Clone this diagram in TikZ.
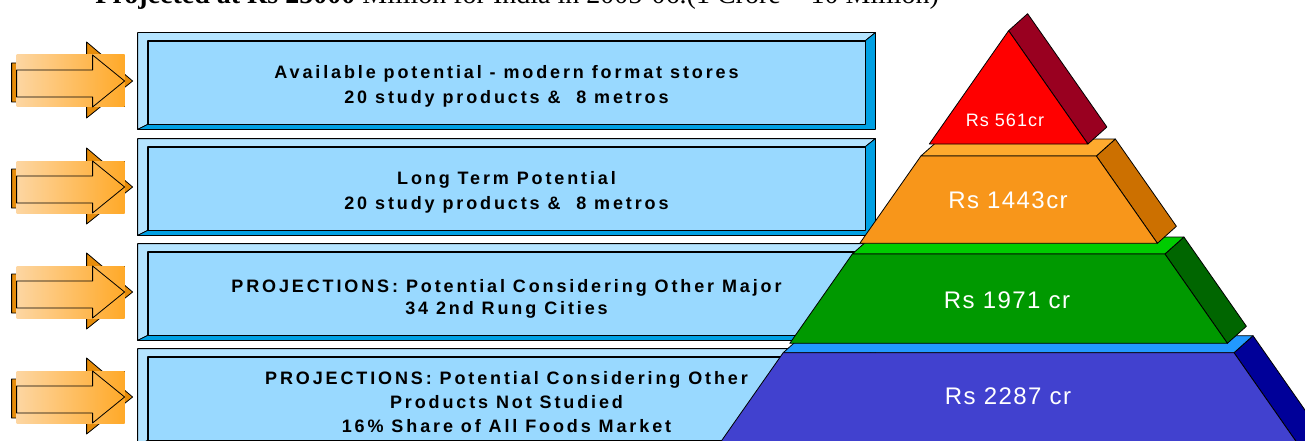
\documentclass[tikz,border=0pt]{standalone}
\usepackage{fontspec}
\setmainfont{Liberation Serif}
\newfontfamily\boxfont[LetterSpace=16]{Liberation Sans}
\newfontfamily\pyrfont[LetterSpace=6]{Liberation Sans}

\definecolor{boxface}{HTML}{99D9FF}
\definecolor{bevellight}{HTML}{B4E4FF}
\definecolor{beveldark}{HTML}{00A0E3}
\definecolor{arrowlight}{HTML}{FDD6A2}
\definecolor{arrowdark}{HTML}{FFA928}
\definecolor{arrowshade}{HTML}{E68C0A}
\definecolor{redfront}{HTML}{FF0000}
\definecolor{redside}{HTML}{990020}
\definecolor{orgfront}{HTML}{F8961A}
\definecolor{orgtop}{HTML}{FFAA2E}
\definecolor{orgside}{HTML}{CC7000}
\definecolor{grnfront}{HTML}{009900}
\definecolor{grntop}{HTML}{00CC00}
\definecolor{grnside}{HTML}{006600}
\definecolor{blufront}{HTML}{4141CF}
\definecolor{blutop}{HTML}{2299FF}
\definecolor{bluside}{HTML}{000099}

\tikzset{
  innerbox/.style={draw, fill=boxface, minimum width=717pt, minimum height=83pt,
    inner sep=0pt, align=center, font=\boxfont\bfseries\fontsize{18}{25}\selectfont},
  lightbevel/.style={draw, fill=bevellight},
  darkbevel/.style={draw, fill=beveldark},
  arrowback/.style={draw, fill=arrowshade},
  arrowgrad/.style={left color=arrowlight, right color=arrowdark},
  face/.style={draw},
  pyrlabel/.style={text=white, inner sep=0pt, font=\pyrfont\fontsize{24}{24}\selectfont}
}

\begin{document}
\begin{tikzpicture}[x=1pt, y=-1pt, line width=0.8pt, line join=round]
  \useasboundingbox (0,0) rectangle (1305,441);
  \clip (0,0) rectangle (1305,441);

  % 标题
  \node[anchor=base west, inner sep=0pt, font=\fontsize{28}{28}\selectfont] (title) at (95,4)
    {\textbf{Projected at Rs 25000} Million for India in 2005-06.(1 Crore = 10 Million)};

  % 文字框
  \node[innerbox] (b1) at (506.5,82.5) {\rule{0pt}{20pt}Available potential - modern format stores\\20 study products \&\ \ 8 metros};
  \draw[lightbevel] ([xshift=-10pt,yshift=8pt]b1.north west) -- ([xshift=10pt,yshift=8pt]b1.north east)
    -- (b1.north east) -- (b1.north west) -- (b1.south west) -- ([xshift=-10pt,yshift=-5pt]b1.south west) -- cycle;
  \draw[darkbevel] ([xshift=10pt,yshift=8pt]b1.north east) -- ([xshift=10pt,yshift=-5pt]b1.south east)
    -- ([xshift=-10pt,yshift=-5pt]b1.south west) -- (b1.south west) -- (b1.south east) -- (b1.north east) -- cycle;

  \node[innerbox] (b2) at (506.5,188.5) {\rule{0pt}{20pt}Long Term Potential\\20 study products \&\ \ 8 metros};
  \draw[lightbevel] ([xshift=-10pt,yshift=8pt]b2.north west) -- ([xshift=10pt,yshift=8pt]b2.north east)
    -- (b2.north east) -- (b2.north west) -- (b2.south west) -- ([xshift=-10pt,yshift=-5pt]b2.south west) -- cycle;
  \draw[darkbevel] ([xshift=10pt,yshift=8pt]b2.north east) -- ([xshift=10pt,yshift=-5pt]b2.south east)
    -- ([xshift=-10pt,yshift=-5pt]b2.south west) -- (b2.south west) -- (b2.south east) -- (b2.north east) -- cycle;

  \node[innerbox] (b3) at (506.5,293.5) {\rule{0pt}{23pt}PROJECTIONS: Potential Considering Other Major\\[-3pt]34 2nd Rung Cities};
  \draw[lightbevel] ([xshift=-10pt,yshift=8pt]b3.north west) -- ([xshift=10pt,yshift=8pt]b3.north east)
    -- (b3.north east) -- (b3.north west) -- (b3.south west) -- ([xshift=-10pt,yshift=-5pt]b3.south west) -- cycle;
  \draw[darkbevel] ([xshift=10pt,yshift=8pt]b3.north east) -- ([xshift=10pt,yshift=-5pt]b3.south east)
    -- ([xshift=-10pt,yshift=-5pt]b3.south west) -- (b3.south west) -- (b3.south east) -- (b3.north east) -- cycle;

  \node[innerbox] (b4) at (506.5,398.5) {\rule{0pt}{20pt}PROJECTIONS: Potential Considering Other\\[-1pt]Products Not Studied\\[-1pt]16\% Share of All Foods Market};
  \draw[lightbevel] ([xshift=-10pt,yshift=8pt]b4.north west) -- ([xshift=10pt,yshift=8pt]b4.north east)
    -- (b4.north east) -- (b4.north west) -- (b4.south west) -- ([xshift=-10pt,yshift=-5pt]b4.south west) -- cycle;
  \draw[darkbevel] ([xshift=10pt,yshift=8pt]b4.north east) -- ([xshift=10pt,yshift=-5pt]b4.south east)
    -- ([xshift=-10pt,yshift=-5pt]b4.south west) -- (b4.south west) -- (b4.south east) -- (b4.north east) -- cycle;

  % 箭头
  \begin{scope}[shift={([yshift=1.5pt]b1.west)}]
    \draw[arrowback] (-136,-18) -- (-61,-18) -- (-61,-39) -- (-15,0) -- (-61,37) -- (-61,21) -- (-136,21) -- cycle;
    \fill[arrowgrad] (-131,-26) rectangle (-23,26);
    \draw (-131,-11) -- (-55,-11) -- (-55,-26) -- (-23,0) -- (-55,26) -- (-55,16) -- (-131,16) -- cycle;
  \end{scope}
  \begin{scope}[shift={([yshift=1.5pt]b2.west)}]
    \draw[arrowback] (-136,-18) -- (-61,-18) -- (-61,-39) -- (-15,0) -- (-61,37) -- (-61,21) -- (-136,21) -- cycle;
    \fill[arrowgrad] (-131,-26) rectangle (-23,26);
    \draw (-131,-11) -- (-55,-11) -- (-55,-26) -- (-23,0) -- (-55,26) -- (-55,16) -- (-131,16) -- cycle;
  \end{scope}
  \begin{scope}[shift={([yshift=1.5pt]b3.west)}]
    \draw[arrowback] (-136,-18) -- (-61,-18) -- (-61,-39) -- (-15,0) -- (-61,37) -- (-61,21) -- (-136,21) -- cycle;
    \fill[arrowgrad] (-131,-26) rectangle (-23,26);
    \draw (-131,-11) -- (-55,-11) -- (-55,-26) -- (-23,0) -- (-55,26) -- (-55,16) -- (-131,16) -- cycle;
  \end{scope}
  \begin{scope}[shift={([yshift=1.5pt]b4.west)}]
    \draw[arrowback] (-136,-18) -- (-61,-18) -- (-61,-39) -- (-15,0) -- (-61,37) -- (-61,21) -- (-136,21) -- cycle;
    \fill[arrowgrad] (-131,-26) rectangle (-23,26);
    \draw (-131,-11) -- (-55,-11) -- (-55,-26) -- (-23,0) -- (-55,26) -- (-55,16) -- (-131,16) -- cycle;
  \end{scope}

  % 金字塔 (从下往上)
  \draw[face, fill=bluside] (1234,352.7) -- (1253,335.7) -- (1335,453) -- (1316,470) -- cycle;
  \draw[face, fill=blutop] (783.2,352.7) -- (802.2,335.7) -- (1253,335.7) -- (1234,352.7) -- cycle;
  \draw[face, fill=blufront] (783.2,352.7) -- (1234,352.7) -- (1316,470) -- (701,470) -- cycle;

  \draw[face, fill=grnside] (1164.9,254) -- (1183.9,237) -- (1246.4,326.3) -- (1227.4,343.3) -- cycle;
  \draw[face, fill=grntop] (852.3,254) -- (871.3,237) -- (1183.9,237) -- (1164.9,254) -- cycle;
  \draw[face, fill=grnfront] (852.3,254) -- (1164.9,254) -- (1227.4,343.3) -- (789.8,343.3) -- cycle;

  \draw[face, fill=orgside] (1096.3,156) -- (1115.3,139) -- (1176.4,226.3) -- (1157.4,243.3) -- cycle;
  \draw[face, fill=orgtop] (920.9,156) -- (939.9,139) -- (1115.3,139) -- (1096.3,156) -- cycle;
  \draw[face, fill=orgfront] (920.9,156) -- (1096.3,156) -- (1157.4,243.3) -- (859.8,243.3) -- cycle;

  \draw[face, fill=redside] (1008.6,30.7) -- (1027.6,13.7) -- (1106.9,127) -- (1087.9,144) -- cycle;
  \draw[face, fill=redfront] (1008.6,30.7) -- (1087.9,144) -- (929.3,144) -- cycle;

  \node[pyrlabel, font=\pyrfont\fontsize{18}{18}\selectfont] (p1) at (1005,120) {Rs 561cr};
  \node[pyrlabel] (p2) at (1008,200) {Rs 1443cr};
  \node[pyrlabel] (p3) at (1007,300) {Rs 1971 cr};
  \node[pyrlabel] (p4) at (1008,396) {Rs 2287 cr};
\end{tikzpicture}
\end{document}
